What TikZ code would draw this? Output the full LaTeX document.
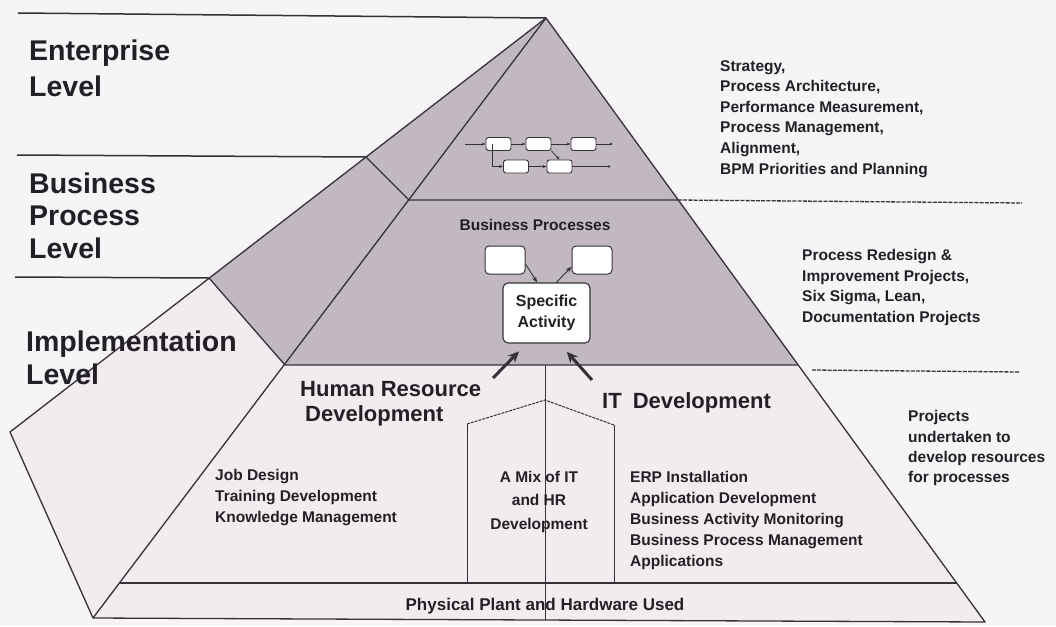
\documentclass[tikz,border=0pt]{standalone}
\usepackage{fontspec}
\setmainfont{Liberation Sans}
\usetikzlibrary{arrows.meta}
\definecolor{bgc}{RGB}{246,244,246}
\definecolor{shadec}{RGB}{194,184,194}
\definecolor{lightc}{RGB}{242,236,240}
\definecolor{linec}{RGB}{52,50,54}
\definecolor{txtc}{RGB}{34,32,36}
\begin{document}
\begin{tikzpicture}[x=1pt,y=-1pt,
  edge/.style={draw=linec,line width=1.3pt,line join=round},
  sepline/.style={draw=linec,line width=1.5pt},
  thinline/.style={draw=linec,line width=0.8pt},
  dashline/.style={draw=linec,line width=1.3pt,dash pattern=on 4pt off 1.2pt},
  roofline/.style={draw=linec,line width=1pt,dash pattern=on 3pt off 1pt},
  lvl/.style={font=\fontsize{28.5}{33}\selectfont\bfseries,text=txtc,anchor=base west,inner sep=0pt},
  small/.style={font=\fontsize{15.5}{20}\selectfont\bfseries,text=txtc,anchor=base west,inner sep=0pt},
  smallc/.style={small,anchor=base},
  midtxt/.style={font=\fontsize{22}{26}\selectfont\bfseries,text=txtc,anchor=base west,inner sep=0pt},
  pbox/.style={draw=linec,fill=white,rounded corners=2.5pt,line width=0.9pt,minimum width=25pt,minimum height=13pt,inner sep=0pt},
  bpbox/.style={draw=linec,fill=white,rounded corners=4pt,line width=1pt,minimum width=40pt,minimum height=28pt,inner sep=0pt},
  sabox/.style={draw=linec,fill=white,rounded corners=5pt,line width=1.1pt,minimum width=87pt,minimum height=60pt,inner sep=0pt,align=center,font=\fontsize{16}{21}\selectfont\bfseries,text=txtc},
  plink/.style={draw=linec,line width=0.8pt},
  tinyarr/.style={draw=linec,line width=0.8pt,-{Stealth[length=4pt,width=3pt]}},
  smallarr/.style={draw=linec,line width=0.9pt,-{Stealth[length=6pt,width=4.5pt]}},
  bigarr/.style={draw=linec,line width=3pt,-{Stealth[length=11pt,width=10pt]}}
]
\useasboundingbox (0,0) rectangle (1056,626);
\fill[bgc] (0,0) rectangle (1056,626);

% key points of the pyramid
\coordinate (A) at (546,18);
\coordinate (P1) at (366,157);
\coordinate (Q1) at (409,200);
\coordinate (R1) at (678,200);
\coordinate (P2) at (209,278);
\coordinate (Q2) at (285,365);
\coordinate (R2) at (798,365);
\coordinate (L) at (10,432);
\coordinate (B) at (93,618);
\coordinate (Q3) at (120,583);
\coordinate (R3) at (957,583);
\coordinate (C) at (985,622);

% fills
\fill[shadec] (A)--(P1)--(P2)--(Q2)--(R2)--cycle;
\fill[lightc] (P2)--(L)--(B)--(C)--(R2)--(Q2)--cycle;

% left level separators
\coordinate (T0) at (18,13);
\coordinate (T1) at (17,155);
\coordinate (T2) at (15,277);
\draw[sepline] (T0)--(A);
\draw[sepline] (T1)--(P1);
\draw[sepline] (T2)--(P2);

% right dashed separators
\coordinate (D1) at (1022,203);
\draw[dashline] (R1)--(D1);
\coordinate (D2a) at (812,370);
\coordinate (D2b) at (1020,372);
\draw[dashline] (D2a)--(D2b);

% pyramid edges
\draw[edge] (A)--(L)--(B)--(C)--cycle;
\draw[edge] (A)--(B);
\draw[edge] (P1)--(Q1)--(R1);
\draw[edge] (P2)--(Q2)--(R2);
\draw[edge] (Q3)--(R3);

% vertical split and mixed pentagon
\coordinate (V1) at (545,365);
\coordinate (V2) at (545,620);
\draw[thinline] (V1)--(V2);
\coordinate (M1) at (467,583);
\coordinate (M2) at (467,424);
\coordinate (M3) at (545,400);
\coordinate (M4) at (614,425);
\coordinate (M5) at (614,583);
\draw[thinline] (M1)--(M2);
\draw[thinline] (M4)--(M5);
\draw[roofline] (M2)--(M3)--(M4);

% level labels
\node[lvl] (l1a) at (29,60) {Enterprise};
\node[lvl] (l1b) at (29,96) {Level};
\node[lvl] (l2a) at (29,193) {Business};
\node[lvl] (l2b) at (29,225) {Process};
\node[lvl] (l2c) at (29,258) {Level};
\node[lvl] (l3a) at (26,351) {Implementation};
\node[lvl] (l3b) at (26,384) {Level};

% enterprise process map
\node[pbox] (b1) at (498.5,144) {};
\node[pbox] (b2) at (538.5,144) {};
\node[pbox] (b3) at (583.5,144) {};
\node[pbox] (b4) at (516,166.5) {};
\node[pbox] (b5) at (559.5,166.5) {};
\coordinate (e0) at (465,144);
\coordinate (e3) at (611,144);
\coordinate (e4) at (492,144);
\coordinate (e5) at (492,166.5);
\coordinate (e6) at (609,166.5);
\draw[tinyarr] (e0)--(b1);
\draw[tinyarr] (b1)--(b2);
\draw[tinyarr] (b2)--(b3);
\draw[plink] (b3)--(e3);
\fill[linec] (e3) circle (1.4pt);
\draw[plink] (e4)--(e5);
\draw[tinyarr] (e5)--(b4);
\draw[tinyarr] (b4)--(b5);
\draw[plink] (b5)--(e6);
\fill[linec] (e6) circle (1.4pt);
\draw[tinyarr] (b2.south east)--(b5.north);

% enterprise descriptions
\node[small] (s1) at (720,71) {Strategy,};
\node[small] (s2) at (720,91.6) {Process Architecture,};
\node[small] (s3) at (720,112.2) {Performance Measurement,};
\node[small] (s4) at (720,132.8) {Process Management,};
\node[small] (s5) at (720,153.4) {Alignment,};
\node[small] (s6) at (720,174) {BPM Priorities and Planning};

% business process level
\node[smallc] (bpt) at (535,230) {Business Processes};
\node[bpbox] (bp1) at (505,260) {};
\node[bpbox] (bp2) at (592,260) {};
\node[sabox] (sa) at (546.5,313) {Specific\\Activity};
\draw[smallarr] (bp1.-11)--(sa.107);
\draw[smallarr] (sa.72)--(bp2.198);

\node[small] (r1) at (802,260) {Process Redesign \&};
\node[small] (r2) at (802,281) {Improvement Projects,};
\node[small] (r3) at (802,301.5) {Six Sigma, Lean,};
\node[small] (r4) at (802,322) {Documentation Projects};

% implementation level
\coordinate (t1) at (493,378);
\coordinate (t2) at (592,380);
\draw[bigarr,shorten >=11pt] (t1)--(sa.237);
\draw[bigarr,shorten >=11pt] (t2)--(sa.293);

\node[midtxt] (hr1) at (300,396) {Human Resource};
\node[midtxt] (hr2) at (305,421) {Development};
\node[midtxt] (it1) at (602,408) {IT\hskip 11pt Development};

\node[small] (j1) at (215,480) {Job Design};
\node[small] (j2) at (215,501) {Training Development};
\node[small] (j3) at (215,522) {Knowledge Management};

\node[smallc] (m1) at (539,482) {A Mix of IT};
\node[smallc] (m2) at (539,505) {and HR};
\node[smallc] (m3) at (539,529) {Development};

\node[small] (i1) at (630,482) {ERP Installation};
\node[small] (i2) at (630,503) {Application Development};
\node[small] (i3) at (630,524) {Business Activity Monitoring};
\node[small] (i4) at (630,545) {Business Process Management};
\node[small] (i5) at (630,566) {Applications};

\node[small] (p1) at (908,421) {Projects};
\node[small] (p2) at (908,442) {undertaken to};
\node[small] (p3) at (908,462) {develop resources};
\node[small] (p4) at (908,482) {for processes};

% physical plant
\node[font=\fontsize{17}{20}\selectfont\bfseries,text=txtc,anchor=base,inner sep=0pt] (pp) at (545,610) {Physical Plant and Hardware Used};
\end{tikzpicture}
\end{document}
